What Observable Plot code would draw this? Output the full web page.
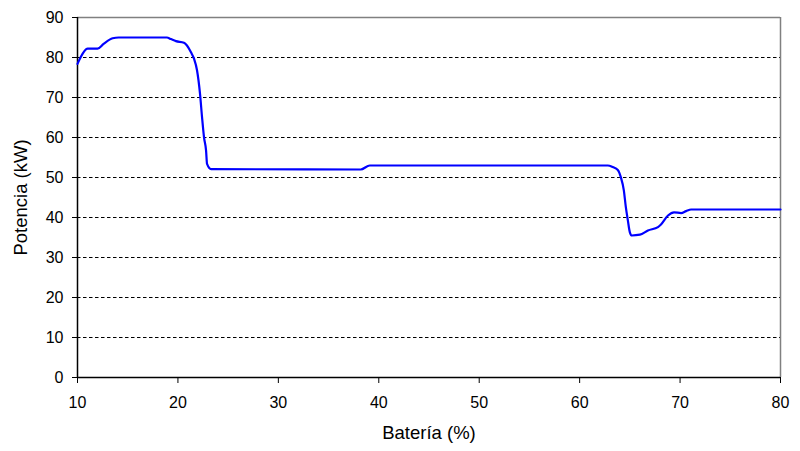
<!DOCTYPE html>
<html><head><meta charset="utf-8">
<script src="https://cdn.jsdelivr.net/npm/d3@7"></script>
<script src="https://cdn.jsdelivr.net/npm/@observablehq/plot@0.6"></script>
<style>
body{margin:0;background:#fff;}
</style>
</head><body><div id="chart"></div>
<script>
const bateria = [10, 10.3, 11, 12, 12.6, 13.5, 14.1, 18.9, 19.3, 19.8, 20.6, 20.9, 21.3, 21.6, 21.9, 22.2, 22.4, 22.6, 22.8, 22.9, 23.3, 38.2, 39.1, 62.8, 63.3, 63.8, 64.1, 64.4, 64.6, 64.8, 65.0, 65.2, 66.0, 66.8, 67.8, 68.1, 68.8, 69.4, 70.1, 70.6, 71.1, 80];
const potencia = [78.4, 80, 82.2, 82.2, 83.4, 84.8, 85, 85, 84.6, 84.1, 83.7, 83, 81.3, 79.7, 76.8, 70.9, 65.1, 60, 56.8, 53.4, 52.1, 52, 53, 53, 52.6, 51.9, 50.1, 46.8, 42.6, 39.3, 36.3, 35.5, 35.7, 36.75, 37.6, 38.25, 40.5, 41.3, 41.1, 41.6, 42, 42];
const xTicks = [10, 20, 30, 40, 50, 60, 70, 80];
const yTicks = [0, 10, 20, 30, 40, 50, 60, 70, 80, 90];
const gridY = [10, 20, 30, 40, 50, 60, 70, 80];

const data = bateria.map((b, i) => ({b, p: potencia[i]}));

const chart = Plot.plot({
  width: 800,
  height: 451,
  marginLeft: 77,
  marginRight: 20,
  marginTop: 17,
  marginBottom: 74,
  style: {fontFamily: "'Liberation Sans', Arial, sans-serif", fontSize: "16px", color: "#000", background: "#fff"},
  x: {domain: [10, 80]},
  y: {domain: [0, 90]},
  marks: [
    Plot.ruleY(gridY, {stroke: "#000", strokeDasharray: "3.5,2.5", strokeWidth: 1}),
    Plot.ruleY([90], {stroke: "#808080", strokeWidth: 1.5}),
    Plot.ruleX([80], {stroke: "#808080", strokeWidth: 1.5}),
    Plot.axisX({ticks: xTicks, tickSize: 6, tickPadding: 13, tickFormat: d => d, stroke: "#000", fontSize: 16, label: null}),
    Plot.axisX({ticks: [], label: "Batería (%)", labelAnchor: "center", labelArrow: "none", labelOffset: 61, fontSize: 18.5, tickSize: 0}),
    Plot.axisY({ticks: yTicks, tickSize: 5, tickPadding: 9, tickFormat: d => d, stroke: "#000", fontSize: 16, label: null}),
    Plot.axisY({ticks: [], label: "Potencia (kW)", labelAnchor: "center", labelArrow: "none", labelOffset: 64, fontSize: 18.5, tickSize: 0}),
    Plot.ruleY([0], {stroke: "#000", strokeWidth: 1.5}),
    Plot.ruleX([10], {stroke: "#000", strokeWidth: 1.5}),
    Plot.line(data, {x: "b", y: "p", stroke: "#0000ff", strokeWidth: 2.2, curve: "monotone-x"})
  ]
});
document.getElementById("chart").appendChild(chart);
</script>
</body></html>
